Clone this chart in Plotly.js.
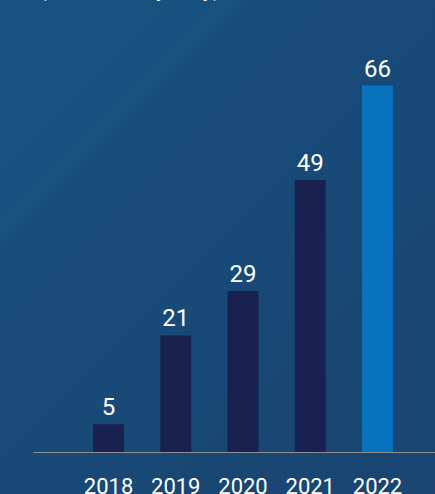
<!DOCTYPE html>
<html>
<head>
<meta charset="utf-8">
<script src="https://cdn.plot.ly/plotly-3.0.1.min.js"></script>
<style>
  html, body { margin: 0; padding: 0; width: 435px; height: 494px; overflow: hidden; }
  #chart {
    width: 435px; height: 494px;
    background:
      linear-gradient(135deg, rgba(255,255,255,0) 23%, rgba(255,255,255,0.012) 25%, rgba(0,0,0,0.02) 27%, rgba(0,0,0,0) 30%),
      linear-gradient(135deg, #1a5283 0%, #18517f 24%, #174b7a 30%, #184a78 55%, #194672 80%, #1a4572 100%);
  }
</style>
</head>
<body>
<div id="chart"></div>
<script>
const years = ['2018', '2019', '2020', '2021', '2022'];
const values = [5, 21, 29, 49, 66];
const barColors = ['#18214f', '#18214f', '#18214f', '#18214f', '#0873bf'];
const subtitle = '(in millions, yearly)';

const trace = {
  type: 'bar',
  x: years,
  y: values,
  width: 0.46,
  marker: { color: barColors, line: { width: 0 } },
  text: values.map(String),
  textposition: 'outside',
  cliponaxis: false,
  textfont: { family: 'Roboto, sans-serif', size: 24, color: '#ffffff' },
  hoverinfo: 'none'
};

const layout = {
  width: 435,
  height: 494,
  margin: { l: 33, r: 0, t: 20, b: 42 },
  paper_bgcolor: 'rgba(0,0,0,0)',
  plot_bgcolor: 'rgba(0,0,0,0)',
  showlegend: false,
  font: { family: 'Roboto, sans-serif', color: '#ffffff' },
  xaxis: {
    type: 'category',
    range: [-1.123, 4.855],
    showgrid: false,
    zeroline: false,
    showline: true,
    linecolor: '#8e8e8e',
    linewidth: 1,
    ticks: '',
    ticklabelstandoff: 15,
    tickfont: { family: 'Roboto, sans-serif', size: 22, color: '#ffffff' },
    fixedrange: true
  },
  yaxis: {
    range: [0, 77.8],
    visible: false,
    showgrid: false,
    zeroline: false,
    fixedrange: true
  },
  annotations: [{
    text: subtitle,
    xref: 'paper', yref: 'paper',
    x: 0.01, y: 1,
    xanchor: 'left', yanchor: 'bottom',
    yshift: 16,
    showarrow: false,
    font: { family: 'Roboto, sans-serif', size: 22, color: '#ffffff' }
  }]
};

Plotly.newPlot('chart', [trace], layout, { displayModeBar: false, staticPlot: true });
</script>
</body>
</html>
